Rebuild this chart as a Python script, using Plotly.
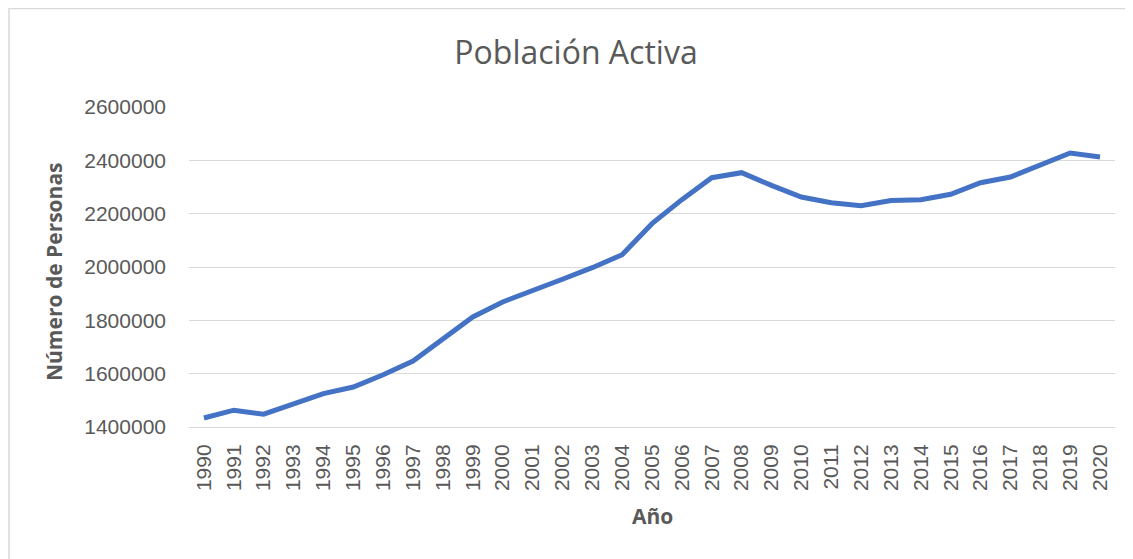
import plotly.graph_objects as go

years = [str(y) for y in range(1990, 2021)]
poblacion_activa = [
    1433750, 1463000, 1448000, 1488000, 1525000, 1550000, 1596000, 1647500,
    1731000, 1812500, 1869000, 1910000, 1954000, 1997500, 2046000, 2162500,
    2252500, 2335000, 2353750, 2306000, 2262500, 2241000, 2230000, 2249000,
    2252500, 2272500, 2316000, 2337500, 2381000, 2427500, 2412500,
]
y_ticks = [1400000, 1600000, 1800000, 2000000, 2200000, 2400000, 2600000]

# page offset from default body margin
OFF = 8
W, H = 1133 - OFF, 559 - OFF
PL, PR, PT, PB = 189, 1115, 107, 427  # plot area in page pixels
L, R, T, B = PL - OFF, 1133 - PR, PT - OFF, 559 - PB
pw, ph = PR - PL, PB - PT

def px(x):
    return (x - PL) / pw

def py(y):
    return (PB - y) / ph

fig = go.Figure()
fig.add_trace(go.Scatter(
    x=years, y=poblacion_activa, mode="lines",
    line=dict(color="#4472C4", width=5),
    hoverinfo="x+y", showlegend=False,
))

grey = "#595959"
tickfont = dict(size=21, color=grey, family="Liberation Sans, Arial, sans-serif")
fig.update_layout(
    width=W, height=H,
    margin=dict(l=L, r=R, t=T, b=B),
    paper_bgcolor="white", plot_bgcolor="white",
    font=dict(family="Open Sans, Liberation Sans, sans-serif", color=grey),
    title=dict(text="Población Activa", x=(576 - OFF) / W, xanchor="center",
               y=1 - (53 - OFF) / H, yanchor="middle",
               font=dict(size=32, color=grey, family="Open Sans, sans-serif")),
    xaxis=dict(
        type="category", range=[-0.5, 30.5],
        tickangle=-90, tickfont=tickfont,
        showgrid=False, showline=True, linecolor="#d9d9d9", linewidth=1,
        ticks="", ticklabelstandoff=8, fixedrange=True,
    ),
    yaxis=dict(
        range=[1400000, 2600000], tickvals=y_ticks,
        ticktext=[str(v) for v in y_ticks],
        tickfont=tickfont,
        showgrid=True, gridcolor="#d9d9d9", gridwidth=1,
        zeroline=False, showline=False, ticks="", ticklabelstandoff=22,
        fixedrange=True,
    ),
    annotations=[
        dict(text="<b>Número de Personas</b>", xref="paper", yref="paper",
             x=px(54), y=py(272), xanchor="center", yanchor="middle",
             textangle=-90, showarrow=False,
             font=dict(size=21, color=grey)),
        dict(text="<b>Año</b>", xref="paper", yref="paper",
             x=px(652), y=py(516), xanchor="center", yanchor="middle",
             showarrow=False, font=dict(size=21, color=grey)),
    ],
    shapes=[
        dict(type="rect", xref="paper", yref="paper",
             x0=px(9), x1=px(1129.5), y0=py(565), y1=py(8.5),
             line=dict(color="#d9d9d9", width=1.5), fillcolor="rgba(0,0,0,0)",
             layer="below"),
    ],
)

fig.write_html("out.html")
